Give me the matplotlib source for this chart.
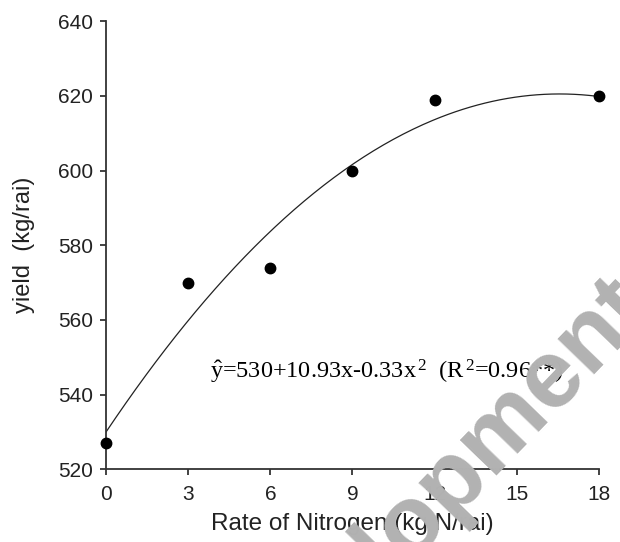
import numpy as np
import matplotlib
matplotlib.use("Agg")
import matplotlib.pyplot as plt

# nitrogen rate (kg N/rai) and measured yield (kg/rai)
rate = [0, 3, 6, 9, 12, 18]
yield_obs = [527, 570, 574, 600, 619, 620]

# quadratic fit printed on the chart
b0, b1, b2 = 530, 10.93, -0.33

x_ticks = [0, 3, 6, 9, 12, 15, 18]
y_ticks = [520, 540, 560, 580, 600, 620, 640]

plt.rcParams['font.family'] = ['Liberation Sans', 'DejaVu Sans']
plt.rcParams['mathtext.fontset'] = 'custom'
plt.rcParams['mathtext.rm'] = 'Liberation Serif'
plt.rcParams['mathtext.it'] = 'Liberation Serif:italic'

fig = plt.figure(figsize=(6.2, 5.42), dpi=100)
ax = fig.add_axes([0.171, 0.134, 0.795, 0.827])

xs = np.linspace(rate[0], rate[-1], 200)
ax.plot(xs, b0 + b1 * xs + b2 * xs ** 2, color='#222222', lw=0.9, zorder=2)
ax.plot(rate, yield_obs, 'o', color='black', ms=7.5, zorder=3, clip_on=False)

ax.set_xlim(0, 18)
ax.set_ylim(520, 640)
ax.set_xticks(x_ticks)
ax.set_yticks(y_ticks)
ax.tick_params(axis='x', pad=7)
ax.tick_params(labelsize=15, colors='#222222', length=4.5, width=1.2)
ax.tick_params(axis='y', pad=5)
for s in ['top', 'right']:
    ax.spines[s].set_visible(False)
for s in ['left', 'bottom']:
    ax.spines[s].set_linewidth(1.3)
    ax.spines[s].set_color('#333333')

ax.set_xlabel('Rate of Nitrogen (kg N/rai)', fontsize=17.5, color='#222222', labelpad=6)
ax.set_ylabel('yield  (kg/rai)', fontsize=17, color='#222222', labelpad=16)

eq = r'$\mathrm{\hat{y}}$=530+10.93x-0.33x$^{\,2}$  (R$^{\,2}$=0.96**)'
ax.text(3.8, 544.2, eq, fontsize=17.5, family='Liberation Serif',
        va='baseline', ha='left', color='black')

# watermark
fig.text(0.681, 0.059, 'Development', rotation=46, ha='center', va='center',
         rotation_mode='anchor', fontsize=70, fontweight='bold', color='#b2b2b2',
         zorder=10)

fig.savefig('out.png', dpi=100)
